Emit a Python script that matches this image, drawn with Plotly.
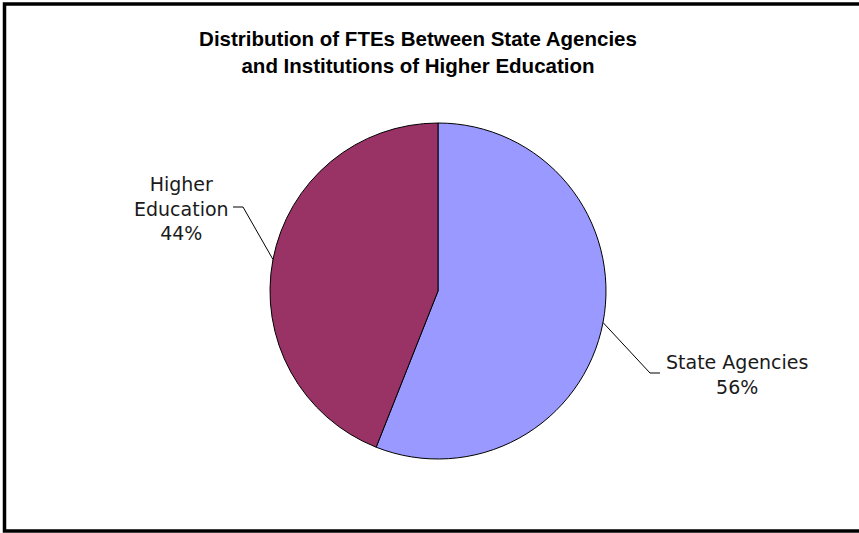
import math
import plotly.graph_objects as go

W, H = 859, 533

labels = ['State Agencies', 'Higher Education']
label_text = ['State Agencies', 'Higher<br>Education']
values = [56, 44]
colors = ['#9999FF', '#993366']

# pie geometry in pixels
cx, cy, r = 438, 291, 168

# elbow of leader line, end of the short horizontal tick, text anchor
elbows = [(650, 373), (243, 207)]
ticks = [(660, 373), (233, 207)]
text_pos = [(737, 374), (181, 208)]

fig = go.Figure()

fig.add_trace(go.Pie(
    labels=labels, values=values, sort=False, direction='clockwise', rotation=0,
    marker=dict(colors=colors, line=dict(color='black', width=1)),
    textinfo='none', hoverinfo='label+percent', showlegend=False,
    domain=dict(x=[(cx - r) / W, (cx + r) / W], y=[(H - cy - r) / H, (H - cy + r) / H]),
))

total = sum(values)
cum = 0
for i, v in enumerate(values):
    theta = 2 * math.pi * (cum + v / 2) / total
    cum += v
    ex, ey = cx + r * math.sin(theta), cy - r * math.cos(theta)
    bx, by = elbows[i]
    tx, ty = ticks[i]
    fig.add_shape(type='path', xref='x', yref='y',
                  path=f'M {ex:.1f} {ey:.1f} L {bx} {by} L {tx} {ty}',
                  line=dict(color='black', width=1))
    pct = round(100 * v / total)
    fig.add_annotation(x=text_pos[i][0], y=text_pos[i][1], xref='x', yref='y',
                       text=f'{label_text[i]}<br>{pct}%', showarrow=False,
                       align='center', xanchor='center', yanchor='middle',
                       font=dict(family='DejaVu Sans', size=19, color='#1a1a1a'))

# outer border
fig.add_shape(type='rect', xref='x', yref='y', x0=4.5, y0=4, x1=862, y1=531,
              line=dict(color='black', width=3.5))

fig.update_layout(
    width=W, height=H,
    margin=dict(l=0, r=0, t=0, b=0),
    paper_bgcolor='white', plot_bgcolor='white',
    xaxis=dict(range=[0, W], visible=False, fixedrange=True),
    yaxis=dict(range=[H, 0], visible=False, fixedrange=True),
    title=dict(text='Distribution of FTEs Between State Agencies<br>and Institutions of Higher Education',
               x=418 / W, xanchor='center', y=1 - 46 / H, yanchor='top',
               font=dict(family='Arial', size=20.5, color='black', weight='bold')),
)

fig.write_html("out.html", config={'displayModeBar': False},
               post_script="document.body.style.margin='0';")
